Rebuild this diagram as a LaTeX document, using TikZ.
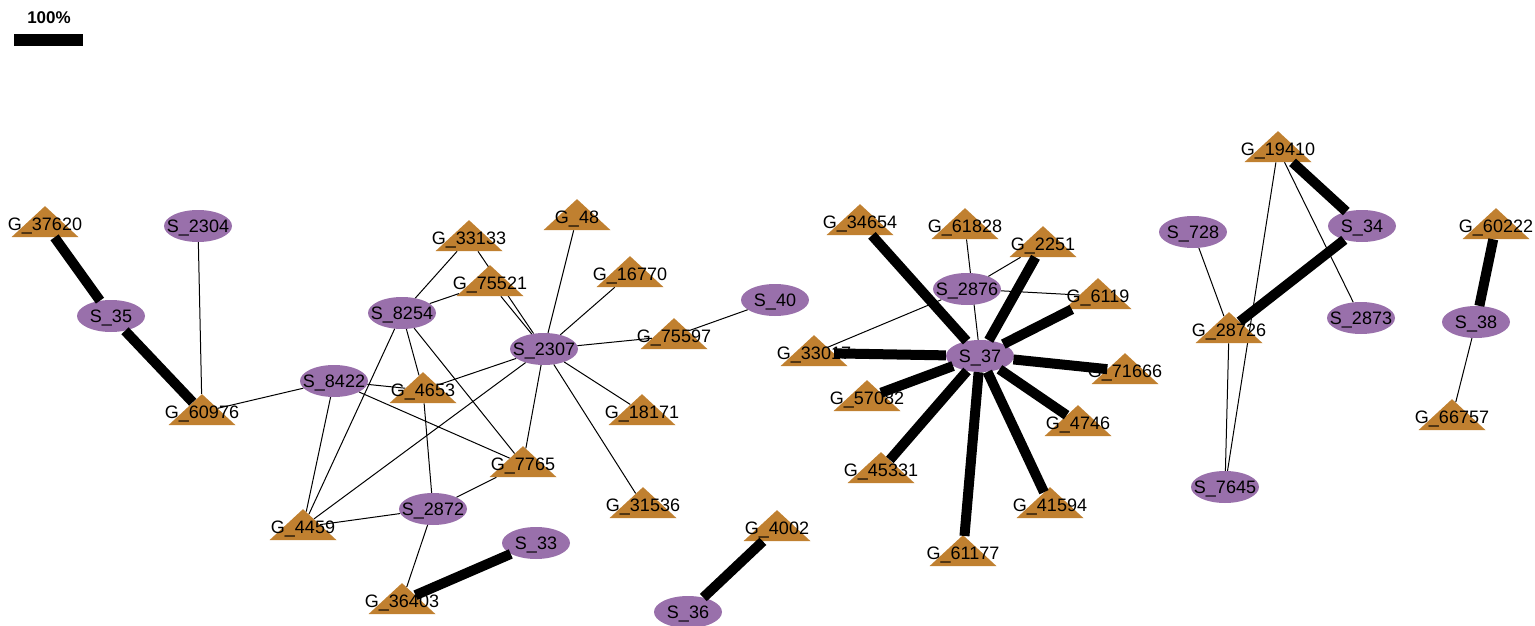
\documentclass[tikz,border=0pt]{standalone}
\usepackage{fontspec}
\setmainfont{Liberation Sans}
\usetikzlibrary{shapes.geometric,backgrounds}
\definecolor{gfill}{RGB}{192,128,48}
\definecolor{sfill}{RGB}{153,112,171}
\begin{document}
\begin{tikzpicture}[x=1pt,y=-1pt,
  lbl/.style={font=\fontsize{18}{21}\selectfont, inner sep=0pt, text height=13pt, text depth=0pt},
  gnode/.style={isosceles triangle, isosceles triangle stretches, shape border rotate=90,
    minimum width=67pt, minimum height=31pt, inner sep=0pt, fill=gfill, label={[lbl]center:#1}},
  snode/.style={ellipse, minimum width=68pt, minimum height=32pt, inner sep=0pt,
    fill=sfill, label={[lbl]center:#1}},
  wlink/.style={line width=1pt},
  slink/.style={line width=10pt},
]
\useasboundingbox (0,0) rectangle (1535,626);

% scale bar
\node[font=\bfseries\fontsize{17}{20}\selectfont, inner sep=0pt] (pct) at (49,18) {100\%};
\node[fill=black, minimum width=69pt, minimum height=12pt, inner sep=0pt] (bar) at (48.5,40) {};

% gene nodes
\node[gnode=G\_37620] (G37620) at (45,224) {};
\node[gnode=G\_60976] (G60976) at (202,412) {};
\node[gnode=G\_33133] (G33133) at (469,238) {};
\node[gnode=G\_75521] (G75521) at (490,283) {};
\node[gnode=G\_4653] (G4653) at (423,390) {};
\node[gnode=G\_48] (G48) at (577,217) {};
\node[gnode=G\_16770] (G16770) at (630,274) {};
\node[gnode=G\_75597] (G75597) at (674,336) {};
\node[gnode=G\_18171] (G18171) at (642,412) {};
\node[gnode=G\_7765] (G7765) at (523,464) {};
\node[gnode=G\_31536] (G31536) at (643,505) {};
\node[gnode=G\_4459] (G4459) at (303,527) {};
\node[gnode=G\_36403] (G36403) at (402,601) {};
\node[gnode=G\_4002] (G4002) at (777,528) {};
\node[gnode=G\_34654] (G34654) at (860,222) {};
\node[gnode=G\_61828] (G61828) at (965,226) {};
\node[gnode=G\_2251] (G2251) at (1043,244) {};
\node[gnode=G\_6119] (G6119) at (1098,296) {};
\node[gnode=G\_33017] (G33017) at (814,353) {};
\node[gnode=G\_71666] (G71666) at (1125,371) {};
\node[gnode=G\_57082] (G57082) at (867,398) {};
\node[gnode=G\_4746] (G4746) at (1078,423) {};
\node[gnode=G\_45331] (G45331) at (881,470) {};
\node[gnode=G\_41594] (G41594) at (1050,505) {};
\node[gnode=G\_61177] (G61177) at (963,553) {};
\node[gnode=G\_19410] (G19410) at (1278,149) {};
\node[gnode=G\_28726] (G28726) at (1229,330) {};
\node[gnode=G\_60222] (G60222) at (1496,226) {};
\node[gnode=G\_66757] (G66757) at (1452,417) {};

% sample nodes
\node[snode=S\_35] (S35) at (111,316) {};
\node[snode=S\_2304] (S2304) at (198,226) {};
\node[snode=S\_8254] (S8254) at (402,313) {};
\node[snode=S\_8422] (S8422) at (334,381) {};
\node[snode=S\_2307] (S2307) at (544,349) {};
\node[snode=S\_2872] (S2872) at (433,509) {};
\node[snode=S\_33] (S33) at (536,543) {};
\node[snode=S\_40] (S40) at (775,300) {};
\node[snode=S\_36] (S36) at (688,612) {};
\node[snode=S\_2876] (S2876) at (967,289) {};
\node[snode=S\_37] (S37) at (980,356) {};
\node[snode=S\_728] (S728) at (1193,232) {};
\node[snode=S\_34] (S34) at (1362,226) {};
\node[snode=S\_2873] (S2873) at (1361,318) {};
\node[snode=S\_7645] (S7645) at (1225,487) {};
\node[snode=S\_38] (S38) at (1476,322) {};

% links that pass behind another node
\begin{pgfonlayer}{background}
\draw[wlink] (G33133) -- (S2307);
\draw[wlink] (G61828) -- (S37);
\draw[wlink] (G19410) -- (S7645);
\end{pgfonlayer}

% weak links
\draw[wlink] (S2304) -- (G60976);
\draw[wlink] (G60976) -- (S8422);
\draw[wlink] (S8422) -- (G4653);
\draw[wlink] (S8422) -- (G4459);
\draw[wlink] (S8422) -- (G7765);
\draw[wlink] (S8254) -- (G33133);
\draw[wlink] (S8254) -- (G75521);
\draw[wlink] (S8254) -- (G4653);
\draw[wlink] (S8254) -- (G4459);
\draw[wlink] (S8254) -- (G7765);
\draw[wlink] (G75521) -- (S2307);
\draw[wlink] (G48) -- (S2307);
\draw[wlink] (G16770) -- (S2307);
\draw[wlink] (G75597) -- (S2307);
\draw[wlink] (G75597) -- (S40);
\draw[wlink] (G18171) -- (S2307);
\draw[wlink] (G31536) -- (S2307);
\draw[wlink] (G7765) -- (S2307);
\draw[wlink] (G4653) -- (S2307);
\draw[wlink] (G4459) -- (S2307);
\draw[wlink] (G4653) -- (S2872);
\draw[wlink] (S2872) -- (G4459);
\draw[wlink] (S2872) -- (G7765);
\draw[wlink] (S2872) -- (G36403);
\draw[wlink] (S2876) -- (G2251);
\draw[wlink] (S2876) -- (G6119);
\draw[wlink] (S2876) -- (G33017);
\draw[wlink] (S728) -- (G28726);
\draw[wlink] (G28726) -- (S7645);
\draw[wlink] (G19410) -- (S2873);
\draw[wlink] (S38) -- (G66757);

% strong links
\draw[slink] (G37620) -- (S35);
\draw[slink] (S35) -- (G60976);
\draw[slink] (G36403) -- (S33);
\draw[slink] (G4002) -- (S36);
\draw[slink] (S37) -- (G34654);
\draw[slink] (S37) -- (G2251);
\draw[slink] (S37) -- (G6119);
\draw[slink] (S37) -- (G71666);
\draw[slink] (S37) -- (G4746);
\draw[slink] (S37) -- (G41594);
\draw[slink] (S37) -- (G61177);
\draw[slink] (S37) -- (G45331);
\draw[slink] (S37) -- (G57082);
\draw[slink] (S37) -- (G33017);
\draw[slink] (G19410) -- (S34);
\draw[slink] (S34) -- (G28726);
\draw[slink] (G60222) -- (S38);
\end{tikzpicture}
\end{document}
